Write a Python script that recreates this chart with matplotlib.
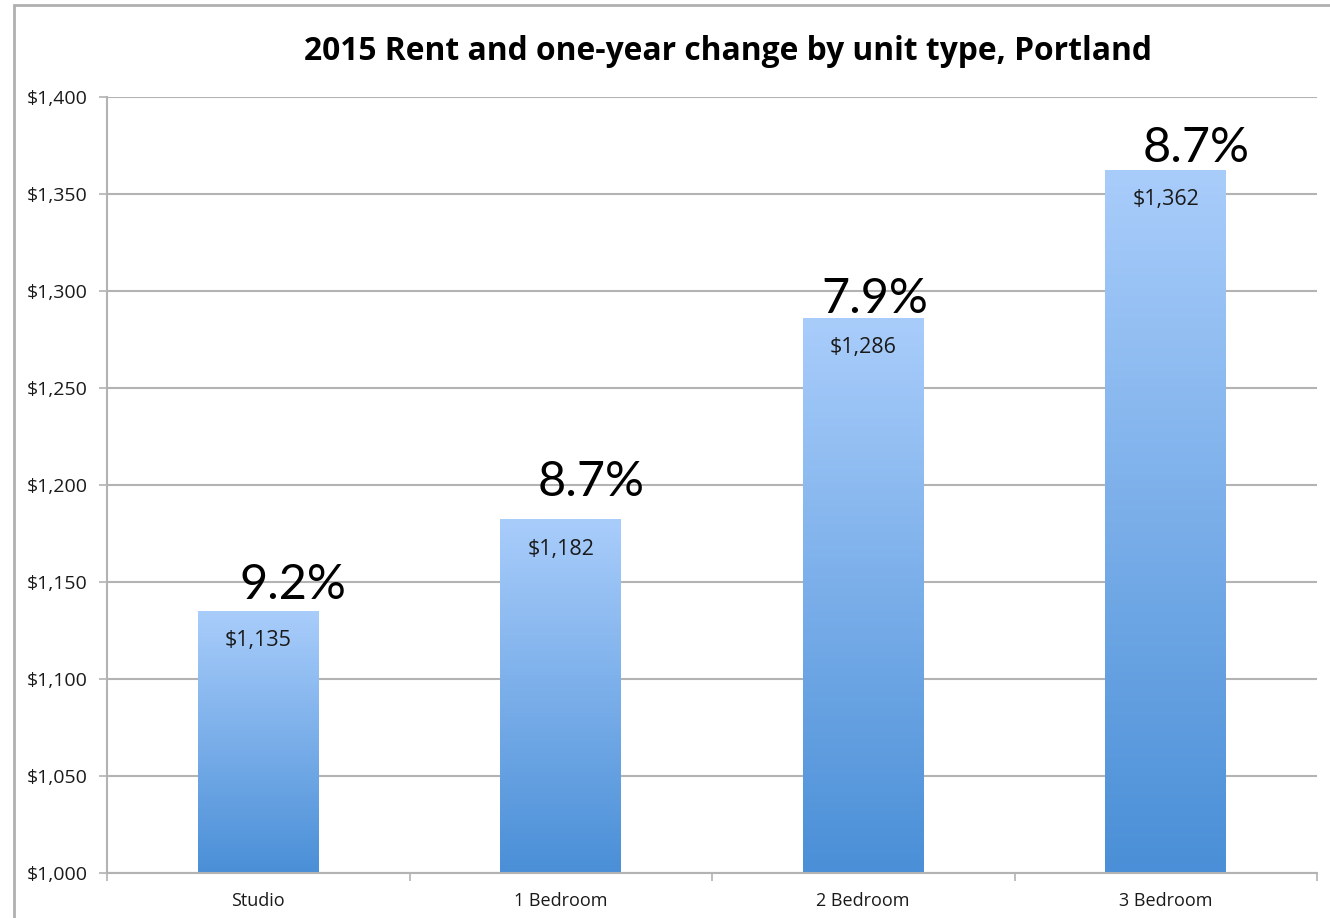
import numpy as np
import matplotlib
matplotlib.use("Agg")
import matplotlib.pyplot as plt
from matplotlib.colors import LinearSegmentedColormap
from matplotlib.patches import Rectangle
from matplotlib.ticker import FuncFormatter, FixedLocator

units = ["Studio", "1 Bedroom", "2 Bedroom", "3 Bedroom"]
rent = [1135, 1182, 1286, 1362]
change = [9.2, 8.7, 7.9, 8.7]

# nudges for the percent labels (points, baseline above bar top)
pct_dx = [25, 22, 8, 22]
pct_dy = [9, 17, 4, 6]

W, H = 1330, 918
fig = plt.figure(figsize=(W / 100, H / 100), dpi=100)
ax = fig.add_axes([107 / W, 45 / H, (1317 - 107) / W, (873 - 97) / H])

grid_c = "#b3b3b3"
cmap = LinearSegmentedColormap.from_list("bar", ["#4a8fd7", "#a9cdfb"])
grad = np.linspace(0, 1, 256).reshape(-1, 1)

x = np.arange(len(units))
bw = 0.4
for xi, v in zip(x, rent):
    ax.imshow(grad, cmap=cmap, origin="lower", aspect="auto",
              extent=[xi - bw / 2, xi + bw / 2, 1000, v], zorder=2)
    ax.text(xi, v - 15, "${:,}".format(v), ha="center", va="center",
            fontsize=15.5, family="Open Sans", color="#1a1a1a", zorder=3)

for xi, v, c, dx, dy in zip(x, rent, change, pct_dx, pct_dy):
    ax.annotate("{:.1f}%".format(c), (xi, v), xytext=(dx, dy),
                textcoords="offset points", ha="center", va="baseline",
                fontsize=35, family="Lato", fontweight="normal",
                color="black", zorder=4)

ax.set_xlim(-0.5, len(units) - 0.5)
ax.set_ylim(1000, 1400)
ax.set_yticks(np.arange(1000, 1401, 50))
ax.yaxis.set_major_formatter(FuncFormatter(lambda v, p: "${:,.0f}".format(v)))
ax.yaxis.grid(True, color=grid_c, linewidth=1.5, zorder=1)
ax.set_axisbelow(True)

ax.set_xticks(x)
ax.set_xticklabels(units)
ax.xaxis.set_minor_locator(FixedLocator(np.arange(-0.5, len(units), 1.0)))
ax.tick_params(axis="x", which="major", length=0, pad=14, labelsize=13)
ax.tick_params(axis="x", which="minor", length=6, width=1.2, color=grid_c)
ax.tick_params(axis="y", length=6, width=1.2, color=grid_c, pad=8, labelsize=14)
for lab in ax.get_xticklabels() + ax.get_yticklabels():
    lab.set_family("Open Sans")
    lab.set_color("#1a1a1a")

for s in ["top", "right"]:
    ax.spines[s].set_visible(False)
for s in ["left", "bottom"]:
    ax.spines[s].set_color(grid_c)
    ax.spines[s].set_linewidth(1.5)

# outer frame of the chart area
fig.patches.append(Rectangle((14 / W, -0.1), 1.2, 1.1 - 5 / H, transform=fig.transFigure,
                             fill=False, edgecolor="#b0b0b0", linewidth=2))

fig.text(728 / W, 1 - 52 / H, "2015 Rent and one-year change by unit type, Portland",
         ha="center", va="center", fontsize=22.9, fontweight="bold", family="Open Sans")

fig.savefig("out.png", dpi=100)
